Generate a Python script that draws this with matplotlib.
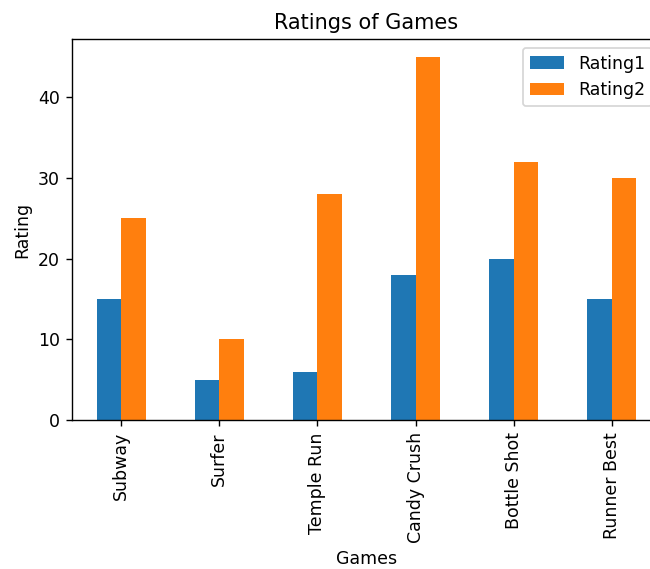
import matplotlib
matplotlib.use("Agg")
import matplotlib.pyplot as plt
import numpy as np

games = ["Subway", "Surfer", "Temple Run", "Candy Crush", "Bottle Shot", "Runner Best"]
rating1 = [15, 5, 6, 18, 20, 15]
rating2 = [25, 10, 28, 45, 32, 30]

fig = plt.figure(figsize=(650/125, 569/125), dpi=125)
ax = fig.add_axes([72/650, 149/569, 589/650, 381/569])
x = np.arange(len(games))
w = 0.25
ax.bar(x - w/2, rating1, w, color="#1f77b4", label="Rating1")
ax.bar(x + w/2, rating2, w, color="#ff7f0e", label="Rating2")
ax.set_xlim(-0.5, len(games) - 0.5)
ax.set_ylim(0, max(rating2) * 1.05)
ax.set_xticks(x)
ax.set_xticklabels(games, rotation=90)
ax.set_xlabel("Games")
ax.set_ylabel("Rating")
ax.set_title("Ratings of Games")
ax.legend(loc="upper right")
fig.savefig("out.png", dpi=125)
